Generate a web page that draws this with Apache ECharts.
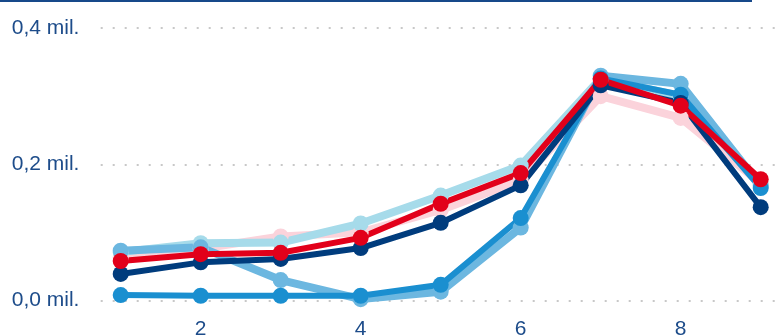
<!DOCTYPE html>
<html>
<head>
<meta charset="utf-8">
<script src="https://cdn.jsdelivr.net/npm/echarts@6/dist/echarts.min.js"></script>
<style>
html,body{margin:0;padding:0;background:#fff;}
#chart{width:779px;height:335px;}
</style>
</head>
<body>
<div id="chart"></div>
<script>
// x positions (1..9)
const xValues = [1, 2, 3, 4, 5, 6, 7, 8, 9];
const xTickValues = [2, 4, 6, 8];
const yTickValues = [0, 0.2, 0.4];
const yTickLabels = ['0,0 mil.', '0,2 mil.', '0,4 mil.'];

// series values (in millions)
const seriesPink     = [0.063, 0.076, 0.094, 0.100, 0.133, 0.176, 0.300, 0.268, 0.172];
const seriesCyan     = [0.071, 0.084, 0.085, 0.113, 0.154, 0.198, 0.326, 0.300, 0.170];
const seriesLightBlue= [0.073, 0.078, 0.030, 0.002, 0.013, 0.107, 0.330, 0.318, 0.168];
const seriesBlue     = [0.008, 0.007, 0.007, 0.007, 0.023, 0.121, 0.326, 0.302, 0.165];
const seriesNavy     = [0.039, 0.056, 0.061, 0.077, 0.114, 0.169, 0.316, 0.290, 0.137];
const seriesRed      = [0.058, 0.068, 0.070, 0.092, 0.142, 0.187, 0.324, 0.286, 0.178];

const seriesDefs = [
  {name: 'pink', data: seriesPink, color: '#fbd3db', width: 8},
  {name: 'cyan', data: seriesCyan, color: '#a6dbea', width: 8},
  {name: 'lightblue', data: seriesLightBlue, color: '#6cb7e0', width: 8},
  {name: 'blue', data: seriesBlue, color: '#1a8fd0', width: 6},
  {name: 'navy', data: seriesNavy, color: '#003c7d', width: 6},
  {name: 'red', data: seriesRed, color: '#e2001a', width: 6}
];

const chart = echarts.init(document.getElementById('chart'), null, {renderer: 'canvas'});
const labelColor = '#1d4c8a';
const font = '"Liberation Sans", Arial, sans-serif';

chart.setOption({
  animation: false,
  backgroundColor: '#fff',
  graphic: [{
    type: 'rect',
    shape: {x: 0, y: 0, width: 752, height: 2},
    style: {fill: '#17498a'}
  }],
  grid: {left: 100.7, right: -1.7, top: 28, bottom: 34.5, containLabel: false, outerBoundsMode: 'none'},
  xAxis: {
    type: 'value',
    min: 0.75,
    max: 9.25,
    axisLine: {show: false},
    axisTick: {show: false},
    splitLine: {show: false},
    axisLabel: {
      customValues: xTickValues,
      color: labelColor,
      fontFamily: font,
      fontSize: 21,
      margin: 18,
      formatter: v => String(v)
    }
  },
  yAxis: {
    type: 'value',
    min: 0,
    max: 0.4,
    interval: 0.2,
    axisLine: {show: false},
    axisTick: {show: false},
    splitLine: {
      show: true,
      lineStyle: {color: '#c8c8c8', width: 2, type: [2, 10]}
    },
    axisLabel: {
      color: labelColor,
      fontFamily: font,
      fontSize: 21,
      align: 'left',
      margin: 89,
      formatter: v => {
        const i = yTickValues.findIndex(t => Math.abs(t - v) < 1e-9);
        return i >= 0 ? yTickLabels[i] : '';
      }
    }
  },
  series: seriesDefs.map(s => ({
    name: s.name,
    type: 'line',
    data: xValues.map((x, i) => [x, s.data[i]]),
    symbol: 'circle',
    symbolSize: 16,
    lineStyle: {color: s.color, width: s.width},
    itemStyle: {color: s.color},
    emphasis: {disabled: true},
    z: 2
  }))
});
</script>
</body>
</html>
